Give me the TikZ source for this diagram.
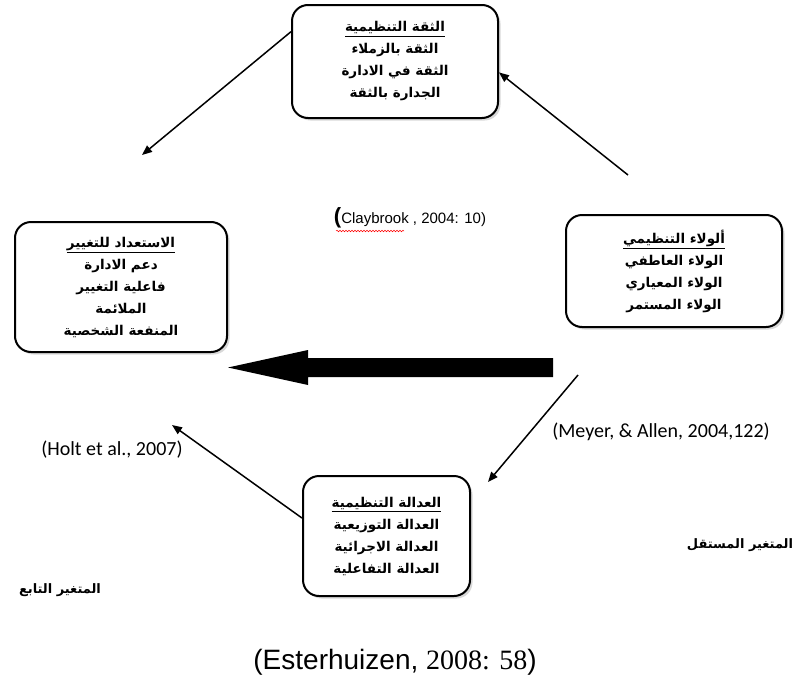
\documentclass[tikz,border=0pt]{standalone}
\usepackage{fontspec}
\setmainfont{Liberation Sans}
\newfontfamily\arabicfont[Script=Arabic]{DejaVu Sans}
\newfontfamily\calibrifont{Carlito}
\newfontfamily\timesfont{Liberation Serif}
\TeXXeTstate=1
\usetikzlibrary{arrows.meta,shadows,decorations.pathmorphing}
\newcommand{\ar}[1]{{\arabicfont\bfseries\beginR #1\endR}}
\newcommand{\arhead}[1]{\setbox0\hbox{\ar{#1}}\leavevmode\vtop{\hbox{\copy0}\kern1.5pt\hrule height 1.6pt width \wd0}}

\tikzset{
  factor/.style={draw, line width=2pt, rounded corners=16pt, fill=white, align=center,
    drop shadow={shadow xshift=2.5pt, shadow yshift=-2.5pt, fill=black!30},
    font=\fontsize{13.5}{22}\selectfont, inner sep=0pt},
  link/.style={line width=1.5pt, -{Triangle[length=10pt,width=8pt]}},
  cite/.style={font=\calibrifont\fontsize{20}{24}\selectfont, inner sep=0pt},
  varlabel/.style={font=\fontsize{13}{16}\selectfont, inner sep=0pt},
}

\begin{document}
\begin{tikzpicture}[x=1pt,y=-1pt]
		%%%%% START %%%%%
		\useasboundingbox (0,0) rectangle (808,688);

		\node[factor, minimum width=206pt, minimum height=113pt] (trust) at (395,61.5)
			{\arhead{الثقة التنظيمية}\\ \ar{الثقة بالزملاء}\\ \ar{الثقة في الادارة}\\ \ar{الجدارة بالثقة}};
		\node[factor, minimum width=216pt, minimum height=112pt] (loyalty) at (674,271)
			{\arhead{ألولاء التنظيمي}\\ \ar{الولاء العاطفي}\\ \ar{الولاء المعياري}\\ \ar{الولاء المستمر}};
		\node[factor, minimum width=212pt, minimum height=130pt] (ready) at (121,287)
			{\arhead{الاستعداد للتغيير}\\ \ar{دعم الادارة}\\ \ar{فاعلية التغيير}\\ \ar{الملائمة}\\ \ar{المنفعة الشخصية}};
		\node[factor, minimum width=167pt, minimum height=120pt] (justice) at (386.5,536)
			{\arhead{العدالة التنظيمية}\\ \ar{العدالة التوزيعية}\\ \ar{العدالة الاجرائية}\\ \ar{العدالة التفاعلية}};

		\coordinate (readytop) at (142,155);
		\coordinate (loyaltytop) at (628,175);
		\coordinate (loyaltybot) at (578,375);
		\coordinate (justicetip) at (488,482);
		\coordinate (readybot) at (172,425);

		\draw[link] (trust.164) -- (readytop);
		\draw[link] (loyaltytop) -- (trust.-6);
		\draw[link] (loyaltybot) -- (justicetip);
		\draw[link] (justice.168) -- (readybot);

		% big arrow
		\fill (553,358) -- (308,358) -- (308,350) -- (228,367.5) -- (308,385) -- (308,377) -- (553,377) -- cycle;

		% sources
		\node[inner sep=0pt] (clay) at (410,218)
			{{\fontsize{22}{22}\selectfont\bfseries(}\fontsize{15}{18}\selectfont Claybrook , 2004: 10)};
		\draw[red, line width=0.5pt, decorate, decoration={snake, amplitude=0.8pt, segment length=3pt}] (336,231) -- (404,231);
		\node[cite] (meyer) at (661,432) {(Meyer, \& Allen, 2004,122)};
		\node[cite] (holt) at (112,450) {(Holt et al., 2007)};

		\node[varlabel] (indep) at (740,545) {\ar{المتغير المستقل}};
		\node[varlabel] (dep) at (60,590) {\ar{المتغير التابع}};

		\node[inner sep=0pt] (source) at (395,662)
			{\fontsize{28}{32}\selectfont(Esterhuizen, {\timesfont 2008: 58})};
		%%%%% END %%%%%
\end{tikzpicture}
\end{document}
